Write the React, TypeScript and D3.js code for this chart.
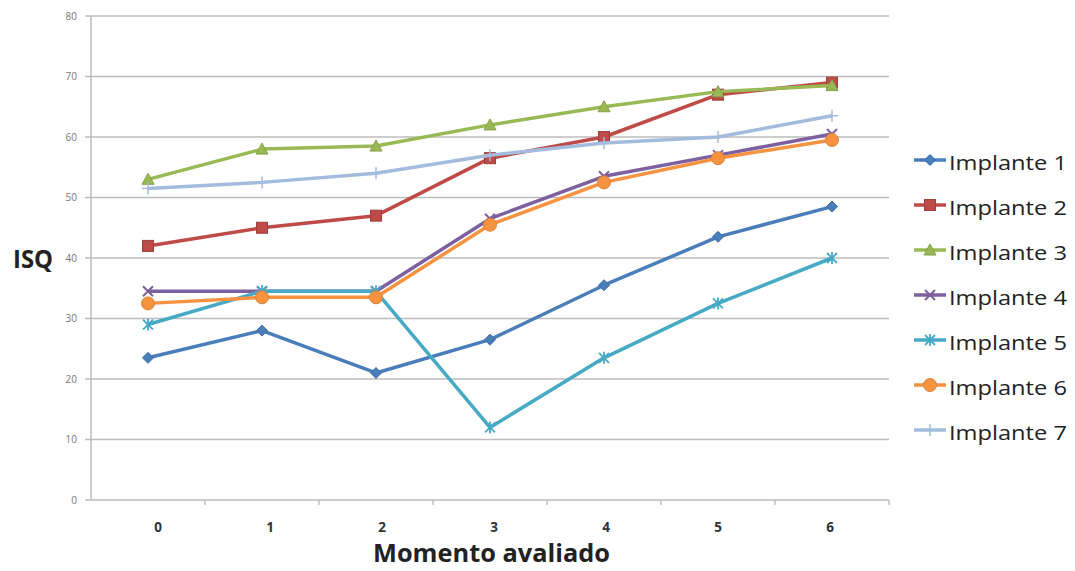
import React from "react";
import * as d3 from "d3";

const categories = ["0", "1", "2", "3", "4", "5", "6"];
const yTicks = [0, 10, 20, 30, 40, 50, 60, 70, 80];
const seriesNames = ["Implante 1", "Implante 2", "Implante 3", "Implante 4", "Implante 5", "Implante 6", "Implante 7"];
const implante1 = [23.5, 28, 21, 26.5, 35.5, 43.5, 48.5];
const implante2 = [42, 45, 47, 56.5, 60, 67, 69];
const implante3 = [53, 58, 58.5, 62, 65, 67.5, 68.5];
const implante4 = [34.5, 34.5, 34.5, 46.5, 53.5, 57, 60.5];
const implante5 = [29, 34.5, 34.5, 12, 23.5, 32.5, 40];
const implante6 = [32.5, 33.5, 33.5, 45.5, 52.5, 56.5, 59.5];
const implante7 = [51.5, 52.5, 54, 57, 59, 60, 63.5];
const seriesValues = [implante1, implante2, implante3, implante4, implante5, implante6, implante7];
const colors = ["#4A7EBB", "#BE4B48", "#98B954", "#7D60A0", "#46AAC5", "#F69240", "#A3BCDD"];
const markers = ["diamond", "square", "triangle", "x", "star", "circle", "plus"];

function Marker({ type, x, y, color }: { type: string; x: number; y: number; color: string }) {
  const s = 5.5;
  switch (type) {
    case "diamond":
      return <path d={`M${x},${y - s}L${x + s},${y}L${x},${y + s}L${x - s},${y}Z`} fill={color} stroke={d3.color(color)!.darker(0.4).toString()} strokeWidth={1} />;
    case "square":
      return <rect x={x - 5.5} y={y - 5.5} width={11} height={11} fill={color} stroke={d3.color(color)!.darker(0.5).toString()} strokeWidth={1} />;
    case "triangle":
      return <path d={`M${x},${y - 6}L${x + 6},${y + 5}L${x - 6},${y + 5}Z`} fill={color} stroke={d3.color(color)!.darker(0.4).toString()} strokeWidth={1} />;
    case "x":
      return <path d={`M${x - 5},${y - 5}L${x + 5},${y + 5}M${x - 5},${y + 5}L${x + 5},${y - 5}`} stroke={color} strokeWidth={2} />;
    case "star":
      return <path d={`M${x - 5},${y - 5}L${x + 5},${y + 5}M${x - 5},${y + 5}L${x + 5},${y - 5}M${x},${y - 6}L${x},${y + 6}`} stroke={color} strokeWidth={1.8} />;
    case "circle":
      return <circle cx={x} cy={y} r={6.5} fill={color} stroke={d3.color(color)!.darker(0.3).toString()} strokeWidth={1} />;
    case "plus":
      return <path d={`M${x - 6},${y}L${x + 6},${y}M${x},${y - 6}L${x},${y + 6}`} stroke={color} strokeWidth={1.5} />;
  }
  return null;
}

export default function App() {
  const W = 1075, H = 571;
  const left = 91, right = 889, top = 16, bottom = 500;
  const x = d3.scaleBand<string>().domain(categories).range([left, right]);
  const y = d3.scaleLinear().domain([0, 80]).range([bottom, top]);
  const cx = (c: string) => (x(c) as number) + x.bandwidth() / 2;
  const line = d3.line<number>().x((_, i) => cx(categories[i])).y((d) => y(d));
  const font = "'Open Sans', sans-serif";
  const legendY0 = 160, legendStep = 45;

  return (
    <svg width={W} height={H} style={{ position: "absolute", left: 0, top: 0, background: "#fff" }}>
      {yTicks.map((t) => (
        <g key={t}>
          <line x1={left} x2={right} y1={y(t)} y2={y(t)} stroke="#BDBDBD" strokeWidth={1.5} />
          <line x1={left - 6} x2={left} y1={y(t)} y2={y(t)} stroke="#BDBDBD" strokeWidth={1.5} />
          <text x={77} y={y(t) + 3.5} fontSize={10} fill="#777" textAnchor="end" fontFamily={font}>{t}</text>
        </g>
      ))}
      <line x1={left} x2={left} y1={top} y2={bottom} stroke="#BDBDBD" strokeWidth={1.5} />
      {categories.map((c, i) => (
        <g key={c}>
          <line x1={(x(c) as number) + x.bandwidth()} x2={(x(c) as number) + x.bandwidth()} y1={bottom} y2={bottom + 5} stroke="#BDBDBD" strokeWidth={1.5} />
          <text x={cx(c) + 10 - i * 2} y={532} fontSize={13.5} fontWeight="bold" fill="#333" textAnchor="middle" fontFamily={font}>{c}</text>
        </g>
      ))}
      <text x={373} y={562} fontSize={25} fontWeight="bold" fill="#222" fontFamily={font} textLength={237} lengthAdjust="spacingAndGlyphs">Momento avaliado</text>
      <text x={13} y={268} fontSize={25} fontWeight="bold" fill="#222" fontFamily={font} textLength={40} lengthAdjust="spacingAndGlyphs">ISQ</text>
      {seriesValues.map((vals, si) => (
        <g key={si}>
          <path d={line(vals) as string} fill="none" stroke={colors[si]} strokeWidth={3.5} strokeLinejoin="round" />
          {vals.map((v, i) => (
            <Marker key={i} type={markers[si]} x={cx(categories[i])} y={y(v)} color={colors[si]} />
          ))}
        </g>
      ))}
      {seriesNames.map((n, si) => {
        const ly = legendY0 + si * legendStep;
        return (
          <g key={n}>
            <line x1={914} x2={946} y1={ly} y2={ly} stroke={colors[si]} strokeWidth={3.5} />
            <Marker type={markers[si]} x={930} y={ly} color={colors[si]} />
            <text x={949} y={ly + 10} fontSize={20} fill="#222" fontFamily={font} textLength={118} lengthAdjust="spacingAndGlyphs">{n}</text>
          </g>
        );
      })}
    </svg>
  );
}
